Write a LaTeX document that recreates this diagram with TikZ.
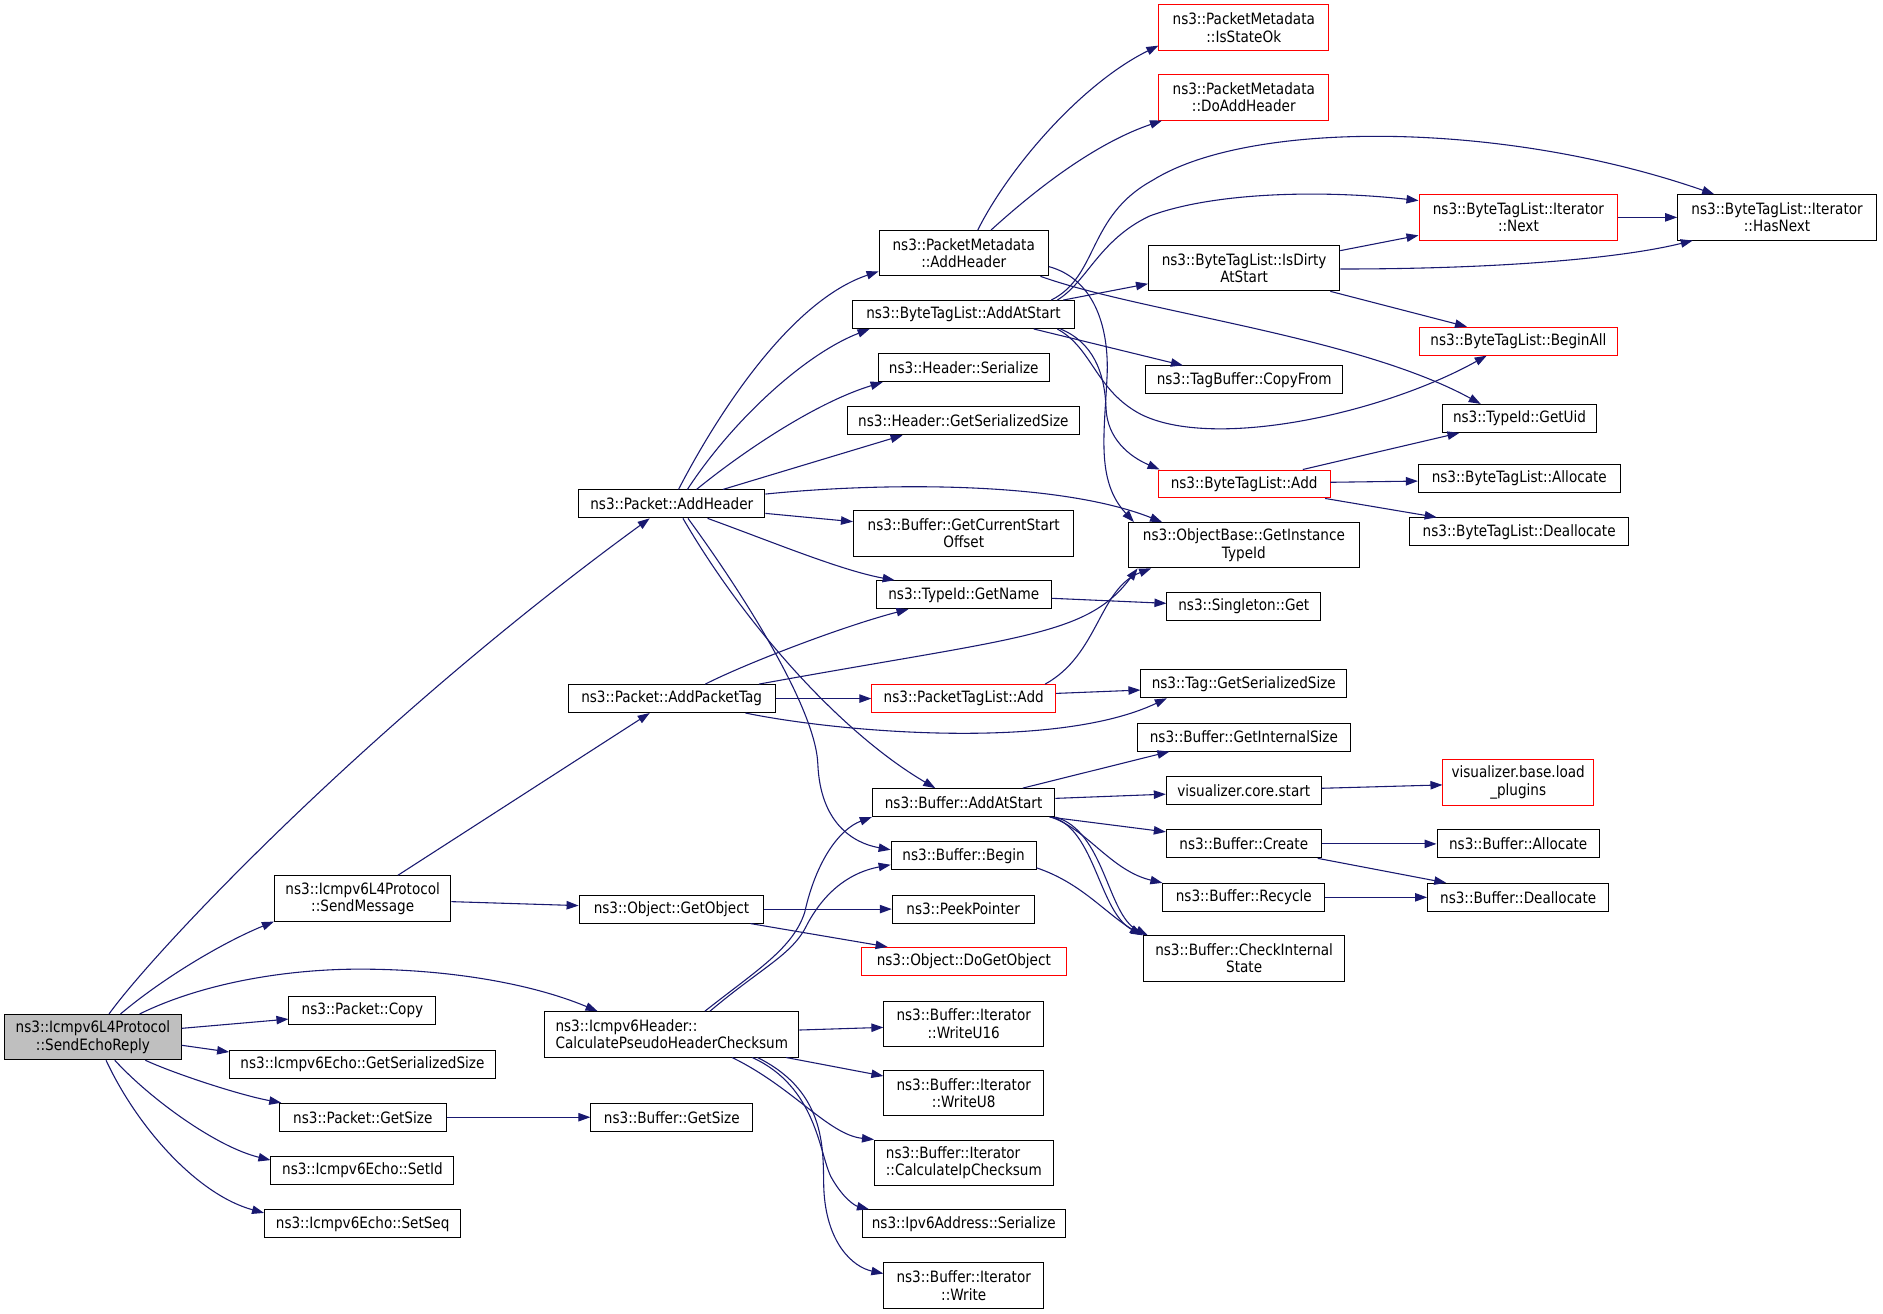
\documentclass[tikz,border=0pt]{standalone}
\usepackage{fontspec}
\setmainfont{DejaVu Sans}[FakeStretch=0.87]
\usetikzlibrary{arrows.meta}
\definecolor{edgec}{HTML}{191970}
\definecolor{redb}{HTML}{FF0000}
\definecolor{rootfill}{HTML}{BFBFBF}
\begin{document}
\begin{tikzpicture}[x=1pt,y=-1pt,
  box/.style={draw=black, line width=0.8pt, fill=white, inner sep=0pt, minimum height=23.3pt, font=\fontsize{13}{14.5}\selectfont, align=center},
  box2/.style={box, minimum height=37.8pt},
  redbox/.style={draw=redb},
  edg/.style={draw=edgec, line width=0.9pt, -{Triangle[length=10pt,width=7pt]}},
]
\fill[white] (0,0) rectangle (1568,1093.4);
\useasboundingbox (0,0) rectangle (1568,1093.4);

% nodes
\node[box2, fill=rootfill, minimum width=147pt] (root) at (77.4,863.6) {ns3::Icmpv6L4Protocol\\::SendEchoReply};
\node[box2, minimum width=147pt] (sendmsg) at (302,748.1) {ns3::Icmpv6L4Protocol\\::SendMessage};
\node[box, minimum width=122.4pt] (copy) at (301.8,841.1) {ns3::Packet::Copy};
\node[box, minimum width=221.2pt] (echosize) at (301.8,886) {ns3::Icmpv6Echo::GetSerializedSize};
\node[box, minimum width=139pt] (getsize) at (302.1,930.3) {ns3::Packet::GetSize};
\node[box, minimum width=152.4pt] (setid) at (301.8,974.7) {ns3::Icmpv6Echo::SetId};
\node[box, minimum width=163.5pt] (setseq) at (302,1019) {ns3::Icmpv6Echo::SetSeq};
\node[box, minimum width=155.2pt] (addheader) at (559.4,419.6) {ns3::Packet::AddHeader};
\node[box, minimum width=172.2pt] (addpackettag) at (559.3,581.7) {ns3::Packet::AddPacketTag};
\node[box, minimum width=153.8pt] (getobject) at (559.1,757) {ns3::Object::GetObject};
\node[box2, minimum width=211.8pt, align=left] (calcpseudo) at (559.4,861.3) {ns3::Icmpv6Header::\\CalculatePseudoHeaderChecksum};
\node[box, minimum width=134.8pt] (bufgetsize) at (559.4,930.3) {ns3::Buffer::GetSize};
\node[box2, minimum width=141pt] (pmaddheader) at (802.5,210.8) {ns3::PacketMetadata\\::AddHeader};
\node[box, minimum width=185.5pt] (btladdatstart) at (802.25,261.9) {ns3::ByteTagList::AddAtStart};
\node[box, minimum width=142.3pt] (hdrserialize) at (802.5,306.2) {ns3::Header::Serialize};
\node[box, minimum width=193.2pt] (hdrgetsize) at (802.2,350.4) {ns3::Header::GetSerializedSize};
\node[box2, minimum width=183.6pt] (bufcurstart) at (802.5,444.1) {ns3::Buffer::GetCurrentStart\\Offset};
\node[box, minimum width=145.5pt] (getname) at (802.5,495.2) {ns3::TypeId::GetName};
\node[box, redbox, minimum width=153pt] (ptladd) at (802.5,581.7) {ns3::PacketTagList::Add};
\node[box, minimum width=152pt] (bufaddatstart) at (802.4,668.3) {ns3::Buffer::AddAtStart};
\node[box, minimum width=120.7pt] (bufbegin) at (802.4,712.6) {ns3::Buffer::Begin};
\node[box, minimum width=118pt] (peekpointer) at (802,757) {ns3::PeekPointer};
\node[box, redbox, minimum width=170.2pt] (dogetobject) at (802.6,800.5) {ns3::Object::DoGetObject};
\node[box2, minimum width=133pt] (writeu16) at (802.5,852.5) {ns3::Buffer::Iterator\\::WriteU16};
\node[box2, minimum width=133pt] (writeu8) at (802.5,910.3) {ns3::Buffer::Iterator\\::WriteU8};
\node[box2, minimum width=148.8pt, align=left] (calcip) at (802.6,968.2) {ns3::Buffer::Iterator\\::CalculateIpChecksum};
\node[box, minimum width=169pt] (ipv6) at (802.5,1019) {ns3::Ipv6Address::Serialize};
\node[box2, minimum width=133pt] (write) at (802.5,1070.5) {ns3::Buffer::Iterator\\::Write};
\node[box2, redbox, minimum width=141.4pt] (isstateok) at (1035.7,23) {ns3::PacketMetadata\\::IsStateOk};
\node[box2, redbox, minimum width=141.4pt] (doaddheader) at (1035.7,81.1) {ns3::PacketMetadata\\::DoAddHeader};
\node[box2, minimum width=159.3pt] (isdirty) at (1036,223.3) {ns3::ByteTagList::IsDirty\\AtStart};
\node[box, minimum width=163.5pt] (copyfrom) at (1036,316.3) {ns3::TagBuffer::CopyFrom};
\node[box, redbox, minimum width=143pt] (btladd) at (1036,403) {ns3::ByteTagList::Add};
\node[box2, minimum width=192.3pt] (objectbase) at (1035.8,454) {ns3::ObjectBase::GetInstance\\TypeId};
\node[box, minimum width=128pt] (singleton) at (1035.7,505) {ns3::Singleton::Get};
\node[box, minimum width=171.3pt] (tagsize) at (1035.7,569.4) {ns3::Tag::GetSerializedSize};
\node[box, minimum width=178pt] (internalsize) at (1035.8,613.8) {ns3::Buffer::GetInternalSize};
\node[box, minimum width=129pt] (vizstart) at (1035.7,658.3) {visualizer.core.start};
\node[box, minimum width=129pt] (create) at (1035.7,702.7) {ns3::Buffer::Create};
\node[box, minimum width=134.7pt] (recycle) at (1035.7,747.2) {ns3::Buffer::Recycle};
\node[box2, minimum width=167.7pt] (checkinternal) at (1036,798.1) {ns3::Buffer::CheckInternal\\State};
\node[box2, redbox, minimum width=165.6pt] (next) at (1264.4,181) {ns3::ByteTagList::Iterator\\::Next};
\node[box, redbox, minimum width=165.6pt] (beginall) at (1264.4,284.1) {ns3::ByteTagList::BeginAll};
\node[box, minimum width=129pt] (getuid) at (1265.3,348.4) {ns3::TypeId::GetUid};
\node[box, minimum width=168pt] (btlallocate) at (1265.1,398.6) {ns3::ByteTagList::Allocate};
\node[box, minimum width=182.5pt] (btldeallocate) at (1265,442.8) {ns3::ByteTagList::Deallocate};
\node[box2, redbox, minimum width=125.3pt] (loadplugins) at (1264.2,651.6) {visualizer.base.load\\\_plugins};
\node[box, minimum width=135.2pt] (bufallocate) at (1264.2,702.7) {ns3::Buffer::Allocate};
\node[box, minimum width=151pt] (bufdeallocate) at (1264.2,747.2) {ns3::Buffer::Deallocate};
\node[box2, minimum width=165.6pt] (hasnext) at (1479.8,181) {ns3::ByteTagList::Iterator\\::HasNext};

% edges from root
\draw[edg] ([xshift=13.4pt]root.north) .. controls (130,790) and (310,600) .. ([xshift=-18.4pt]addheader.south);
\draw[edg] ([xshift=23pt]root.north) .. controls (135,815) and (185,785) .. (sendmsg.south west);
\draw[edg] ([xshift=38.9pt]root.north) .. controls (170,818) and (240,807) .. (299.5,807) .. controls (370,807) and (440,818) .. ([xshift=44.5pt]calcpseudo.north west);
\draw[edg] ([yshift=7.3pt]root.east) -- ([yshift=-7.5pt]copy.west);
\draw[edg] ([yshift=-6.8pt]root.east) -- ([yshift=10pt]echosize.west);
\draw[edg] ([xshift=43.7pt]root.south) .. controls (145,894) and (200,912) .. ([xshift=2pt]getsize.north west);
\draw[edg] ([xshift=18.2pt]root.south) .. controls (125,915) and (180,955) .. ([yshift=8.7pt]setid.west);
\draw[edg] ([xshift=10.9pt]root.south) .. controls (115,940) and (165,995) .. ([yshift=9pt]setseq.west);

% sendmessage
\draw[edg] ([xshift=29.4pt]sendmsg.north) -- ([xshift=-18.3pt]addpackettag.south);
\draw[edg] ([yshift=-2.7pt]sendmsg.east) -- ([yshift=2.9pt]getobject.west);

% packet addheader
\draw[edg] ([xshift=5.6pt]addheader.north) .. controls (600,340) and (660,250) .. ([yshift=-15.2pt]pmaddheader.west);
\draw[edg] ([xshift=13pt]addheader.north) .. controls (610,350) and (670,295) .. ([xshift=15pt]btladdatstart.south west);
\draw[edg] ([xshift=20.6pt]addheader.north) .. controls (620,375) and (680,335) .. ([xshift=4pt]hdrserialize.south west);
\draw[edg] ([xshift=42.6pt]addheader.north) -- ([xshift=46.4pt]hdrgetsize.south west);
\draw[edg] ([yshift=8.2pt]addheader.east) .. controls (730,402) and (880,400) .. ([xshift=28.4pt]objectbase.north west);
\draw[edg] ([yshift=-7.9pt]addheader.east) -- ([yshift=9.7pt]bufcurstart.west);
\draw[edg] ([xshift=29.8pt]addheader.south) .. controls (640,450) and (700,475) .. ([xshift=-57.5pt]getname.north);
\draw[edg] ([xshift=9.3pt]addheader.south) .. controls (620,520) and (700,610) .. ([xshift=-23.6pt]bufaddatstart.north);
\draw[edg] ([xshift=13.5pt]addheader.south) .. controls (620,496) and (679,590) .. (681,636) .. controls (683,685) and (710,702) .. ([yshift=5pt]bufbegin.west);

% addpackettag
\draw[edg] ([xshift=28pt]addpackettag.north) .. controls (620,553) and (700,522) .. ([xshift=-46pt]getname.south);
\draw[edg] ([xshift=72.7pt]addpackettag.north) .. controls (850,530) and (905,530) .. ([xshift=8pt]objectbase.south west);
\draw[edg] (addpackettag.east) -- (ptladd.west);
\draw[edg] ([xshift=61.5pt]addpackettag.south) .. controls (700,610) and (880,625) .. ([xshift=22pt]tagsize.south west);

% packetmetadata addheader
\draw[edg] ([xshift=11.7pt]pmaddheader.north) .. controls (840,140) and (900,70) .. ([yshift=-15pt]isstateok.west);
\draw[edg] ([xshift=22.8pt]pmaddheader.north) .. controls (860,160) and (910,120) .. ([xshift=3pt]doaddheader.south west);
\draw[edg] ([yshift=-11.2pt]pmaddheader.east) .. controls (910,232) and (923,270) .. (922,310) .. controls (920,360) and (912,400) .. ([xshift=5pt]objectbase.north west);
\draw[edg] ([xshift=-7pt]pmaddheader.south east) .. controls (950,260) and (1130,280) .. ([xshift=-32.3pt]getuid.north);

% bytetaglist addatstart
\draw[edg] ([xshift=-20pt]btladdatstart.north east) .. controls (915,230) and (905,180) .. (960,150) .. controls (1040,100) and (1250,100) .. ([xshift=-52.4pt]hasnext.north);
\draw[edg] ([xshift=-15pt]btladdatstart.north east) .. controls (905,235) and (915,200) .. (957,180) .. controls (1010,160) and (1100,158) .. ([yshift=14pt]next.west);
\draw[edg] ([xshift=-10pt]btladdatstart.north east) -- ([yshift=-13pt]isdirty.west);
\draw[edg] ([xshift=-34.5pt]btladdatstart.south east) -- ([xshift=-51pt]copyfrom.north);
\draw[edg] ([xshift=-15pt]btladdatstart.south east) .. controls (910,290) and (912,325) .. (950,345) .. controls (1010,375) and (1150,345) .. ([xshift=-26.4pt]beginall.south);
\draw[edg] ([xshift=-12.3pt]btladdatstart.south east) .. controls (910,285) and (920,310) .. (921,340) .. controls (922,365) and (940,380) .. ([xshift=1.5pt]btladd.north west);

% isdirty
\draw[edg] ([yshift=14.6pt]isdirty.east) -- ([yshift=-15pt]next.west);
\draw[edg] ([yshift=-0.7pt]isdirty.east) .. controls (1250,224) and (1350,215) .. ([xshift=13pt]hasnext.south west);
\draw[edg] ([xshift=-8.3pt]isdirty.south east) -- ([xshift=-42.8pt]beginall.north);
\draw[edg] (next.east) -- (hasnext.west);

% bytetaglist add
\draw[edg] ([xshift=-23pt]btladd.north east) -- ([xshift=-50pt]getuid.south);
\draw[edg] ([yshift=1.4pt]btladd.east) -- ([yshift=-2pt]btlallocate.west);
\draw[edg] ([xshift=-4.5pt]btladd.south east) -- ([xshift=23pt]btldeallocate.north west);

% getname, packettaglist add
\draw[edg] ([yshift=-3pt]getname.east) -- ([yshift=2.6pt]singleton.west);
\draw[edg] ([yshift=4.3pt]ptladd.east) -- ([yshift=-5.2pt]tagsize.west);
\draw[edg] ([xshift=-9.1pt]ptladd.north east) .. controls (915,545) and (915,490) .. ([xshift=19.3pt]objectbase.south west);

% buffer addatstart
\draw[edg] ([xshift=-27.1pt]bufaddatstart.north east) -- ([xshift=-62pt]internalsize.south);
\draw[edg] ([yshift=3.5pt]bufaddatstart.east) -- ([yshift=-3pt]vizstart.west);
\draw[edg] ([xshift=-5pt]bufaddatstart.south east) -- ([yshift=10pt]create.west);
\draw[edg] ([xshift=-4pt]bufaddatstart.south east) .. controls (905,690) and (925,725) .. (recycle.north west);
\draw[edg] ([xshift=-3pt]bufaddatstart.south east) .. controls (912,690) and (915,760) .. (checkinternal.north west);
\draw[edg] (bufaddatstart.south east) .. controls (920,692) and (922,762) .. ([xshift=4pt]checkinternal.north west);
\draw[edg] ([yshift=2pt]bufbegin.south east) .. controls (900,735) and (920,760) .. ([xshift=-1pt]checkinternal.north west);

\draw[edg] ([yshift=1.9pt]vizstart.east) -- ([yshift=-2pt]loadplugins.west);
\draw[edg] (create.east) -- (bufallocate.west);
\draw[edg] ([xshift=-3.3pt]create.south east) -- ([xshift=16pt]bufdeallocate.north west);
\draw[edg] (recycle.east) -- (bufdeallocate.west);

\draw[edg] (getsize.east) -- (bufgetsize.west);
\draw[edg] (getobject.east) -- (peekpointer.west);
\draw[edg] ([xshift=-11.5pt]getobject.south east) -- ([xshift=22pt]dogetobject.north west);

% calcpseudo
\draw[edg] ([xshift=27.6pt]calcpseudo.north) .. controls (630,808) and (660,790) .. (670,760) .. controls (680,715) and (700,690) .. (bufaddatstart.south west);
\draw[edg] ([xshift=31.8pt]calcpseudo.north) .. controls (635,805) and (660,795) .. (672,770) .. controls (688,740) and (710,726) .. ([yshift=-7.5pt]bufbegin.west);
\draw[edg] ([yshift=3.6pt]calcpseudo.east) -- ([yshift=-3pt]writeu16.west);
\draw[edg] ([xshift=-11pt]calcpseudo.south east) -- ([yshift=14.3pt]writeu8.west);
\draw[edg] ([xshift=50.2pt]calcpseudo.south) .. controls (660,905) and (690,945) .. (calcip.north west);
\draw[edg] ([xshift=67pt]calcpseudo.south) .. controls (680,905) and (682,960) .. (692,980) .. controls (702,998) and (712,1004) .. ([xshift=6pt]ipv6.north west);
\draw[edg] ([xshift=71.4pt]calcpseudo.south) .. controls (690,910) and (685,960) .. (686,990) .. controls (688,1035) and (710,1055) .. ([yshift=10pt]write.west);
\end{tikzpicture}
\end{document}
